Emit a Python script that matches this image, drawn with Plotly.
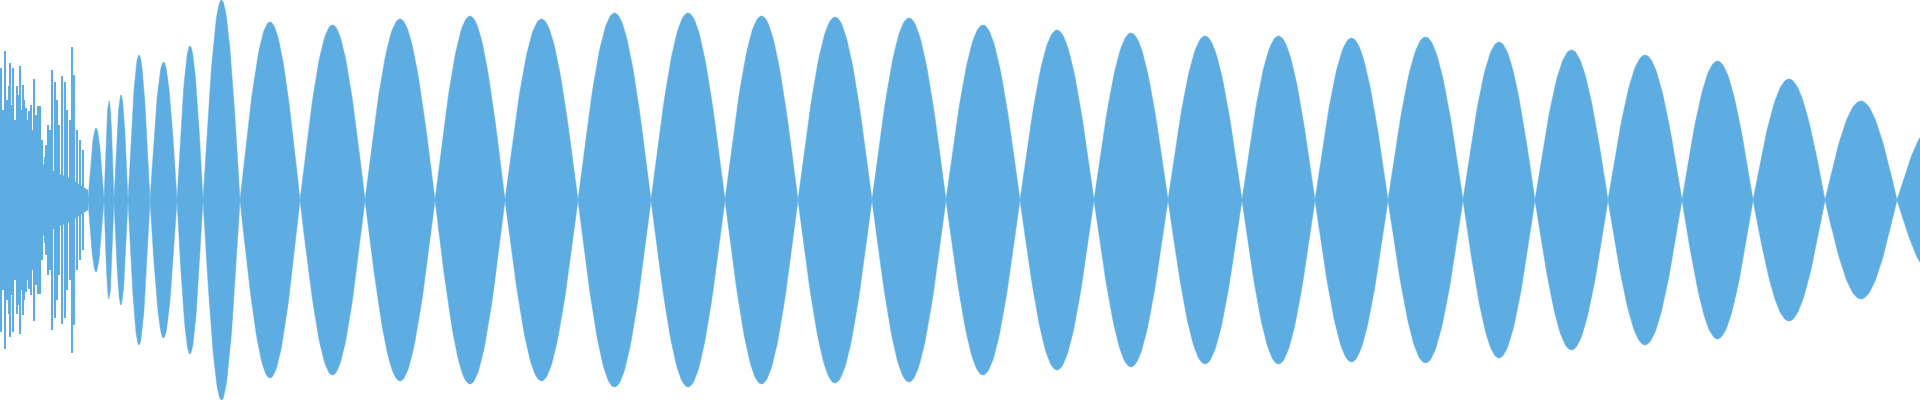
import numpy as np
import plotly.graph_objects as go

# Lobes of the waveform envelope: start, end, peak amplitude (pixel-like units, center 0)
lobe_start = [88, 104, 114, 128, 150, 177, 203, 240, 300, 365, 435, 505, 578, 651, 725, 798, 872, 946,
              1020, 1094, 1168, 1242, 1315, 1388, 1463, 1535, 1608, 1682, 1753, 1825, 1897]
lobe_end = [104, 114, 128, 150, 177, 203, 240, 300, 365, 435, 505, 578, 651, 725, 798, 872, 946, 1020,
            1094, 1168, 1242, 1315, 1388, 1463, 1535, 1608, 1682, 1753, 1825, 1897, 1970]
lobe_amp = [72, 99, 105, 145, 138, 154, 200, 178, 175, 181, 184, 181, 187, 187, 184, 183, 182, 175,
            170, 167, 164, 164, 162, 163, 158, 150, 145, 139, 121, 99, 75]

# Dense spikes on the left side
spike_x = [1, 3, 5, 7, 9, 10, 12, 13, 15, 17, 18, 20, 21, 23, 24, 26, 28, 29, 31, 32, 34, 36, 38, 40,
           42, 45, 46, 48, 50, 52, 55, 57, 59, 62, 65, 67, 70, 72, 74, 77, 80, 83]
spike_amp = [132, 90, 149, 100, 114, 137, 95, 132, 80, 114, 105, 134, 90, 115, 100, 92, 80, 89, 95, 70,
             121, 85, 94, 94, 60, 43, 55, 75, 70, 130, 118, 100, 75, 124, 118, 90, 80, 153, 125, 70, 60, 50]

# Central mass of the dense region
mass_x = [0, 10, 25, 40, 55, 70, 80, 88]
mass_amp = [62, 58, 48, 38, 28, 22, 15, 10]

color = "#5dade2"
fig = go.Figure()

mx = mass_x + mass_x[::-1]
my = mass_amp + [-a for a in mass_amp[::-1]]
fig.add_trace(go.Scatter(x=mx, y=my, fill="toself", fillcolor=color, line=dict(width=0), mode="lines"))

for s, e, a in zip(lobe_start, lobe_end, lobe_amp):
    t = np.linspace(0, 1, 60)
    xs = s + (e - s) * t
    ys = a * np.sin(np.pi * t)
    fig.add_trace(go.Scatter(x=np.concatenate([xs, xs[::-1]]), y=np.concatenate([ys, -ys[::-1]]),
                             fill="toself", fillcolor=color, line=dict(width=0.5, color=color), mode="lines"))

fig.add_trace(go.Bar(x=spike_x, y=[2 * a for a in spike_amp], base=[-a for a in spike_amp],
                     width=0.9, marker=dict(color=color, line=dict(width=0))))

fig.update_layout(width=1920, height=400, margin=dict(l=0, r=0, t=0, b=0), showlegend=False,
                  paper_bgcolor="white", plot_bgcolor="white", bargap=0)
fig.update_xaxes(range=[0, 1920], visible=False)
fig.update_yaxes(range=[-200, 200], visible=False)
fig.write_html("out.html", config={"displayModeBar": False},
               post_script="document.body.style.margin='0';document.body.style.overflow='hidden';")
